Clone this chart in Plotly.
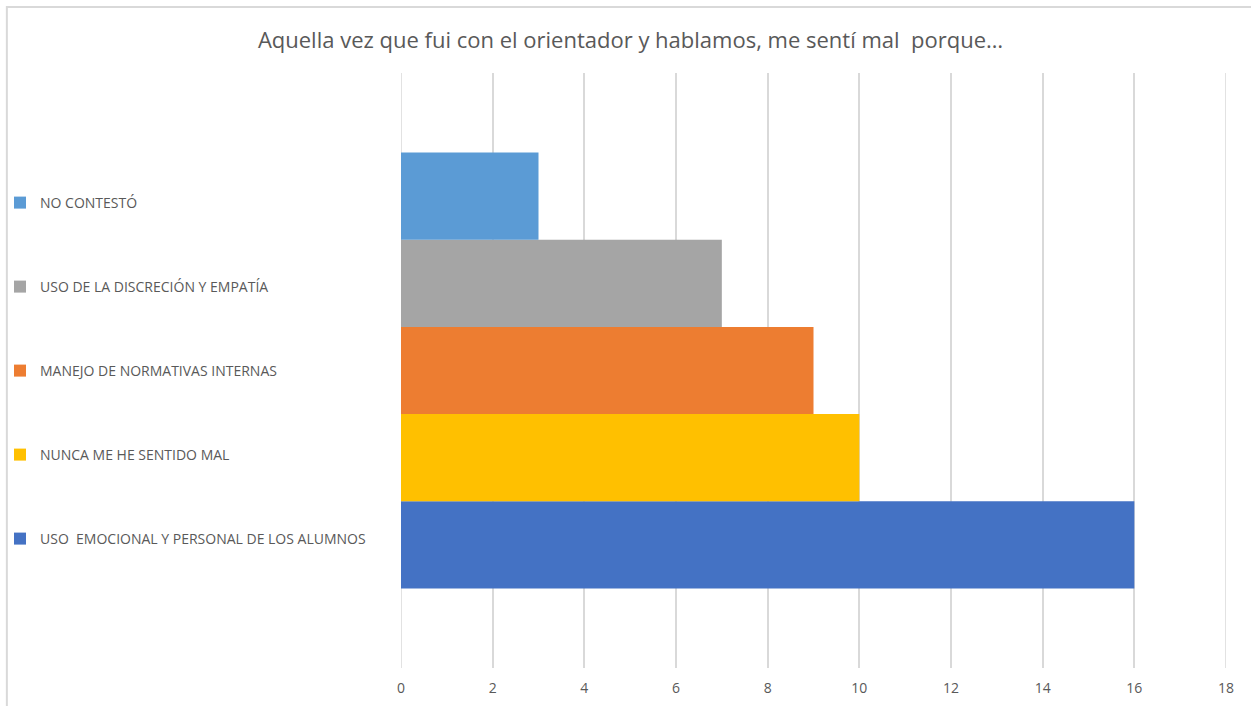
import plotly.graph_objects as go

title_text = "Aquella vez que fui con el orientador y hablamos, me sentí mal  porque…"
# bottom to top
series_names = [
    "USO  EMOCIONAL Y PERSONAL DE LOS ALUMNOS",
    "NUNCA ME HE SENTIDO MAL",
    "MANEJO DE NORMATIVAS INTERNAS",
    "USO DE LA DISCRECIÓN Y EMPATÍA",
    "NO CONTESTÓ",
]
series_values = [16, 10, 9, 7, 3]
series_colors = ["#4472C4", "#FFC000", "#ED7D31", "#A5A5A5", "#5B9BD5"]
x_ticks = [0, 2, 4, 6, 8, 10, 12, 14, 16, 18]

W, H = 1251, 706
legend_y_px = [539, 455, 371, 287, 203]
FONT = "Open Sans, Segoe UI, sans-serif"
GRID = "#D9D9D9"

fig = go.Figure()
legends = {}
for i, (name, val, col) in enumerate(zip(series_names, series_values, series_colors)):
    lname = "legend" if i == 0 else f"legend{i+1}"
    fig.add_trace(go.Bar(
        y=[""], x=[val], name=name, orientation="h",
        marker=dict(color=col, line=dict(width=0)),
        legend=lname,
    ))
    legends[lname] = dict(
        x=0, xref="container", xanchor="left",
        y=1 - legend_y_px[i] / H, yref="container", yanchor="middle",
        bgcolor="rgba(0,0,0,0)", borderwidth=0,
        font=dict(family=FONT, size=14, color="#595959"),
        itemwidth=30,
    )

fig.update_layout(
    width=W, height=H,
    margin=dict(l=401, r=25, t=73, b=38, pad=0),
    paper_bgcolor="white", plot_bgcolor="white",
    barmode="group", bargap=0.267, bargroupgap=0,
    title=dict(text=title_text, x=630.5 / W, xref="container", xanchor="center",
               y=1 - 40 / H, yref="container", yanchor="middle",
               font=dict(family=FONT, size=22, color="#595959")),
    xaxis=dict(range=[x_ticks[0], x_ticks[-1]], tickvals=x_ticks, showgrid=True, gridcolor=GRID,
               gridwidth=1.5, zeroline=False, showline=False, ticks="",
               tickfont=dict(family=FONT, size=14, color="#595959"),
               ticklabelstandoff=10, automargin=False),
    yaxis=dict(showticklabels=False, showgrid=False, zeroline=False, showline=False,
               automargin=False),
    showlegend=True,
    **legends,
)

# gridlines at the range edges (plotly omits them)
for xv in (x_ticks[0], x_ticks[-1]):
    fig.add_shape(type="line", xref="x", yref="paper", x0=xv, x1=xv, y0=0, y1=1,
                  line=dict(color=GRID, width=1.5), layer="below")

# chart frame (Excel chart area border)
fig.add_shape(type="rect", xref="paper", yref="paper",
              x0=(7 - 401) / 824.7, x1=1.2, y0=-0.3, y1=1 + (73 - 7) / 595,
              line=dict(color=GRID, width=2), fillcolor="rgba(0,0,0,0)", layer="below")

fig.write_html("out.html", config={"displayModeBar": False},
               post_script="document.body.style.margin='0';")
